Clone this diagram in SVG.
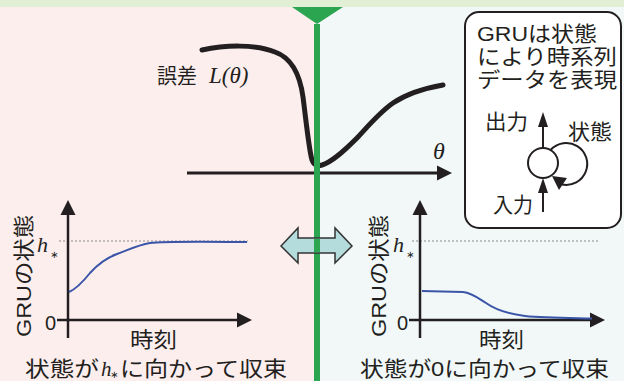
<svg xmlns="http://www.w3.org/2000/svg" width="624" height="381" viewBox="0 0 624 381">
<style>
.jp{font-family:"Liberation Sans","Noto Sans CJK JP",sans-serif;font-size:21px;fill:#231f20}
.mi{font-family:"Liberation Serif",serif;font-style:italic;fill:#231f20}
.st{font-family:"DejaVu Sans",sans-serif;font-size:10px;fill:#231f20}
.ax{stroke:#231f20;stroke-width:2.5;fill:none}
.ah{fill:#231f20}
.dot{stroke:#8a8a8a;stroke-width:1;stroke-dasharray:2 2;fill:none}
.blue{stroke:#3a55a8;stroke-width:2;fill:none}
.thin{stroke:#231f20;stroke-width:2;fill:none}
</style>
<rect x="0" y="0" width="317" height="381" fill="#fdeeee"/>
<rect x="317" y="0" width="307" height="381" fill="#f1f8f7"/>
<rect x="0" y="0" width="624" height="7" fill="#e1efd5"/>

<g id="loss">
<text class="jp" x="157" y="83" textLength="40" lengthAdjust="spacingAndGlyphs">誤差</text>
<text class="mi" x="209" y="83" style="font-size:23px">L(θ)</text>
<path d="M202,50 C225,45 255,44 275,52 C292,58 300,75 303,97 C306,120 309,150 312,160 C314,166 318,166 322,165 C332,162 343,152 357,138 C370,124 380,112 393,103 C405,95 420,89 443,85" stroke="#231f20" stroke-width="5" fill="none" stroke-linecap="round"/>
<line x1="187" y1="173" x2="440" y2="173" stroke="#231f20" stroke-width="3"/>
<polygon class="ah" points="452,173 437,165.5 437,180.5"/>
<text class="mi" x="433" y="159" style="font-size:24px">θ</text>
</g>

<g id="divider">
<rect x="314" y="24" width="6" height="357" fill="#2ba550"/>
<polygon points="292,7 343,7 317,24" fill="#2ba550"/>
</g>

<g id="double-arrow">
<polygon points="281,246 298,228 298,238 335,238 335,228 352,246 335,263 335,253 298,253 298,263" fill="#b5dcdc" stroke="#333" stroke-width="1.5" stroke-linejoin="miter"/>
<rect x="314" y="238.8" width="6" height="13.4" fill="#2ba550"/>
</g>

<g id="plot-left">
<line class="dot" x1="59" y1="241" x2="248" y2="241"/>
<line class="ax" x1="68" y1="213" x2="68" y2="338"/>
<polygon class="ah" points="68,200 60.5,215 75.5,215"/>
<line class="ax" x1="57" y1="320" x2="239" y2="320"/>
<polygon class="ah" points="252,320 237,312.5 237,327.5"/>
<path class="blue" d="M69,292 C76,289 82,283 90,273 C98,264 106,258 117,254 C128,250 138,245 150,243 C165,241 200,241.5 247,242"/>
<text class="jp" x="45" y="330" style="font-size:20px">0</text>
<text class="mi" x="37" y="252" style="font-size:22px">h</text>
<text class="st" x="50" y="258">∗</text>
<text class="jp" transform="translate(31,337) rotate(-90)" x="0" y="0" textLength="122" lengthAdjust="spacingAndGlyphs">GRUの状態</text>
<text class="jp" x="130" y="347" textLength="47" lengthAdjust="spacingAndGlyphs">時刻</text>
<text class="jp" x="25" y="376" textLength="74" lengthAdjust="spacingAndGlyphs">状態が</text>
<text class="mi" x="101" y="376" style="font-size:21px">h</text>
<text class="st" x="110" y="378">∗</text>
<text class="jp" x="120" y="376" textLength="167" lengthAdjust="spacingAndGlyphs">に向かって収束</text>
</g>

<g id="plot-right">
<line class="dot" x1="412" y1="241" x2="599" y2="241"/>
<line class="ax" x1="420" y1="213" x2="420" y2="338"/>
<polygon class="ah" points="420,200 412.5,215 427.5,215"/>
<line class="ax" x1="409" y1="320" x2="592" y2="320"/>
<polygon class="ah" points="605,320 590,312.5 590,327.5"/>
<path class="blue" d="M422,291 L463,292 C472,293 478,298 486,303 C496,310 508,314 525,316 C545,318 570,318 592,318.5"/>
<text class="jp" x="397" y="330" style="font-size:20px">0</text>
<text class="mi" x="393" y="252" style="font-size:22px">h</text>
<text class="st" x="406" y="258">∗</text>
<text class="jp" transform="translate(386,337) rotate(-90)" x="0" y="0" textLength="122" lengthAdjust="spacingAndGlyphs">GRUの状態</text>
<text class="jp" x="479" y="347" textLength="45" lengthAdjust="spacingAndGlyphs">時刻</text>
<text class="jp" x="360" y="376" textLength="249" lengthAdjust="spacingAndGlyphs">状態が0に向かって収束</text>
</g>

<g id="gru-box">
<rect x="465" y="12" width="156" height="216" rx="14" fill="#fff" stroke="#231f20" stroke-width="2"/>
<text class="jp" x="477" y="41" textLength="120" lengthAdjust="spacingAndGlyphs">GRUは状態</text>
<text class="jp" x="477" y="64" textLength="140" lengthAdjust="spacingAndGlyphs">により時系列</text>
<text class="jp" x="477" y="87" textLength="140" lengthAdjust="spacingAndGlyphs">データを表現</text>
<text class="jp" x="485" y="129" textLength="43" lengthAdjust="spacingAndGlyphs">出力</text>
<text class="jp" x="568" y="139" textLength="44" lengthAdjust="spacingAndGlyphs">状態</text>
<text class="jp" x="493" y="212" textLength="40" lengthAdjust="spacingAndGlyphs">入力</text>
<circle cx="543" cy="163" r="15" fill="#fff" stroke="#231f20" stroke-width="2"/>
<path class="thin" d="M550.5,150 A21,21 0 1 1 562,184.5"/>
<polygon class="ah" points="552,176 567,178 559,190"/>
<line class="thin" x1="543" y1="148" x2="543" y2="125"/>
<polygon class="ah" points="543,112 538,127 548,127"/>
<line class="thin" x1="543" y1="212" x2="543" y2="191"/>
<polygon class="ah" points="543,178 538,193 548,193"/>
</g>
</svg>
